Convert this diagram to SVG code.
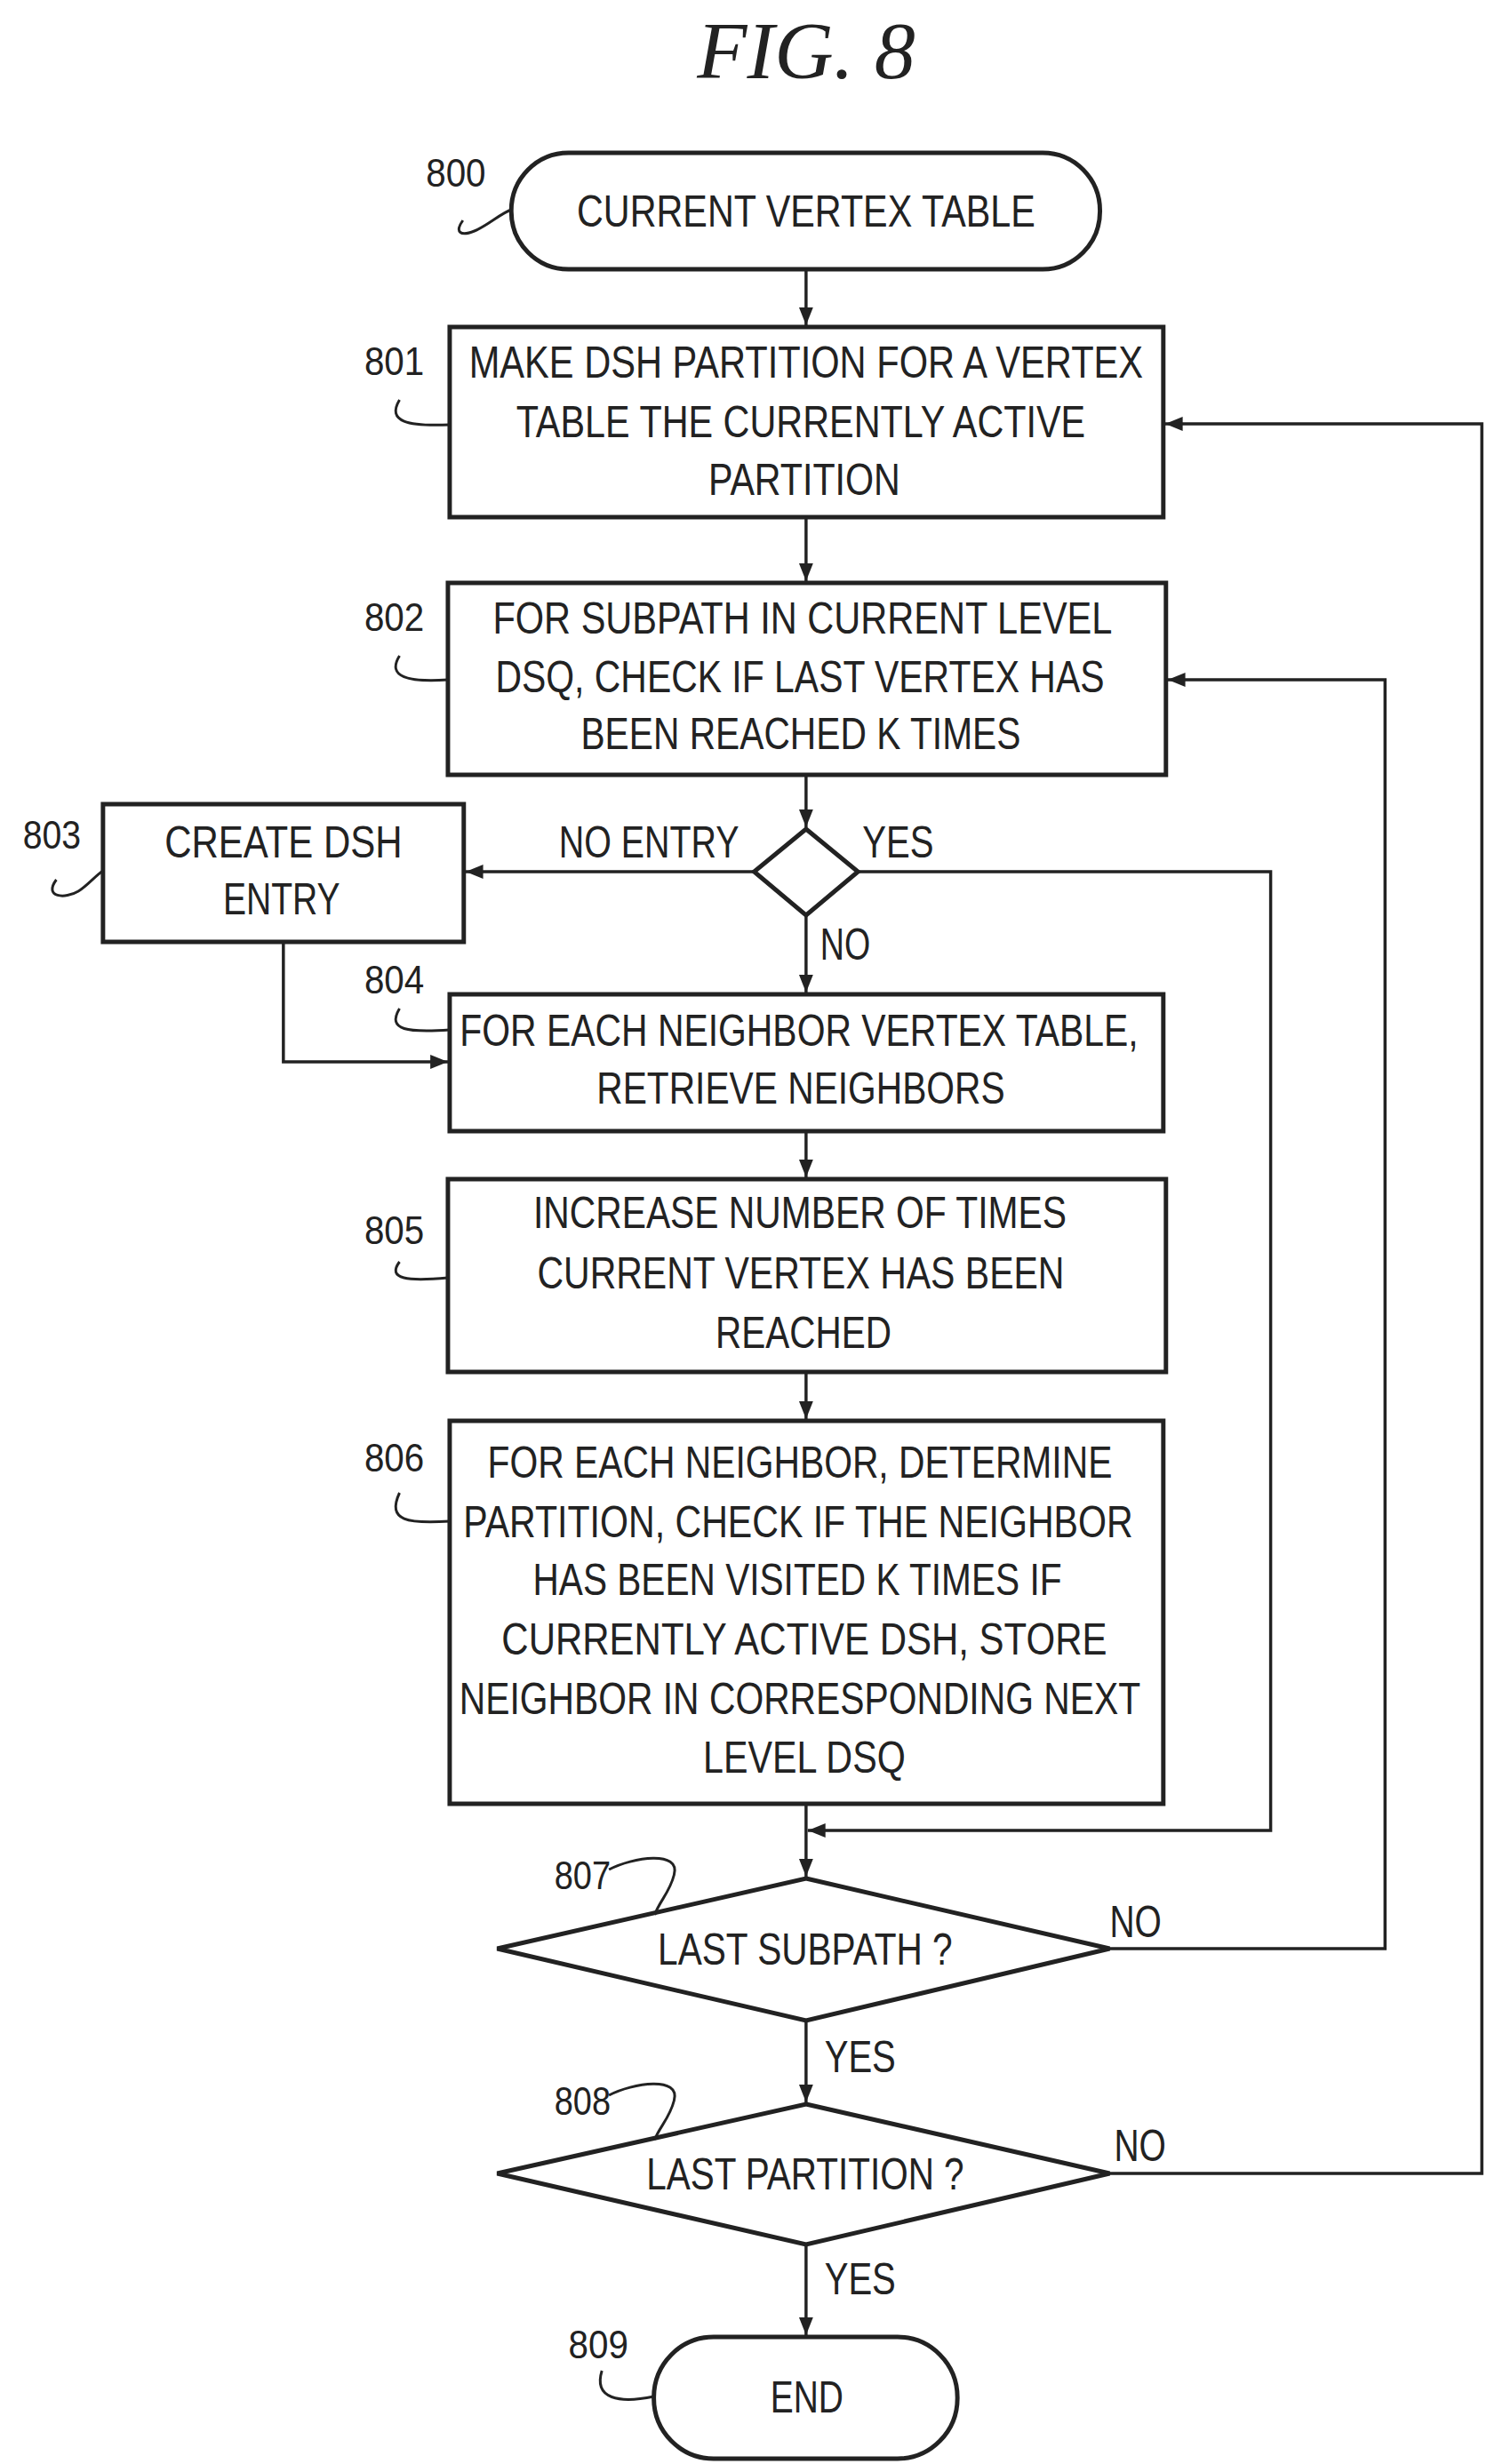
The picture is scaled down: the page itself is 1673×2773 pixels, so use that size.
<svg xmlns="http://www.w3.org/2000/svg" width="1673" height="2773" viewBox="0 0 1673 2773">
<style>
.s{fill:none;stroke:#222;stroke-width:3.5}
.b{fill:#fff;stroke:#222;stroke-width:5}
.c{fill:none;stroke:#222;stroke-width:3}
text{font-family:"Liberation Sans",Arial,sans-serif;font-size:50px;fill:#222}
.m{text-anchor:middle}
.t{font-family:"Liberation Serif","Times New Roman",serif;font-style:italic;font-size:92px}
.n{font-size:44px}
</style>
<defs>
<marker id="h" viewBox="0 0 10 10" refX="10" refY="5" markerWidth="20" markerHeight="20" orient="auto" markerUnits="userSpaceOnUse"><path d="M0,1L10,5L0,9z" fill="#222"/></marker></defs>
<text class="t m" x="907" y="88">FIG. 8</text>
<g transform="translate(4,0) scale(0.99,1)">
<g id="connectors" class="s">
<path d="M912 303V366" marker-end="url(#h)"/>
<path d="M912 582V654" marker-end="url(#h)"/>
<path d="M912 872V931" marker-end="url(#h)"/>
<path d="M853 981H525" marker-end="url(#h)"/>
<path d="M912 1030V1117" marker-end="url(#h)"/>
<path d="M318 1060V1195H505" marker-end="url(#h)"/>
<path d="M912 1273V1325" marker-end="url(#h)"/>
<path d="M912 1544V1597" marker-end="url(#h)"/>
<path d="M912 2030V2112" marker-end="url(#h)"/>
<path d="M971 981H1440V2060H914" marker-end="url(#h)"/>
<path d="M912 2274V2366" marker-end="url(#h)"/>
<path d="M912 2526V2628" marker-end="url(#h)"/>
<path d="M1257 2193H1570V765H1323" marker-end="url(#h)"/>
<path d="M1257 2446H1680V477H1320" marker-end="url(#h)"/>
</g>
<g id="n800"><rect class="b" x="577" y="172" width="669" height="131" rx="65"/><text class="m" x="912" y="255" textLength="521" lengthAdjust="spacingAndGlyphs">CURRENT VERTEX TABLE</text><text class="n" x="480" y="210" textLength="68" lengthAdjust="spacingAndGlyphs">800</text><path class="c" d="M522 248C512 262 520 266 535 260C550 254 565 240 577 236"/></g>
<g id="n801"><rect class="b" x="507" y="368" width="811" height="214"/><text class="m" x="912" y="425" textLength="766" lengthAdjust="spacingAndGlyphs">MAKE DSH PARTITION FOR A VERTEX</text><text class="m" x="906" y="492" textLength="647" lengthAdjust="spacingAndGlyphs">TABLE THE CURRENTLY ACTIVE</text><text class="m" x="910" y="557" textLength="218" lengthAdjust="spacingAndGlyphs">PARTITION</text><text class="n" x="410" y="422" textLength="68" lengthAdjust="spacingAndGlyphs">801</text><path class="c" d="M450 450C435 475 460 480 507 478"/></g>
<g id="n802"><rect class="b" x="505" y="656" width="816" height="216"/><text class="m" x="908" y="713" textLength="704" lengthAdjust="spacingAndGlyphs">FOR SUBPATH IN CURRENT LEVEL</text><text class="m" x="905" y="779" textLength="692" lengthAdjust="spacingAndGlyphs">DSQ, CHECK IF LAST VERTEX HAS</text><text class="m" x="906" y="843" textLength="500" lengthAdjust="spacingAndGlyphs">BEEN REACHED K TIMES</text><text class="n" x="410" y="710" textLength="68" lengthAdjust="spacingAndGlyphs">802</text><path class="c" d="M450 738C435 762 460 768 505 765"/></g>
<g id="d1"><path class="b" d="M912 933L971 981L912 1030L853 981Z"/><text x="631" y="965" textLength="205" lengthAdjust="spacingAndGlyphs">NO ENTRY</text><text x="976" y="965" textLength="81" lengthAdjust="spacingAndGlyphs">YES</text><text x="928" y="1080" textLength="57" lengthAdjust="spacingAndGlyphs">NO</text></g>
<g id="n803"><rect class="b" x="113" y="905" width="410" height="155"/><text class="m" x="318" y="965" textLength="270" lengthAdjust="spacingAndGlyphs">CREATE DSH</text><text class="m" x="316" y="1029" textLength="133" lengthAdjust="spacingAndGlyphs">ENTRY</text><text class="n" x="22" y="955" textLength="66" lengthAdjust="spacingAndGlyphs">803</text><path class="c" d="M60 990C45 1010 70 1012 85 1003C95 997 105 985 113 980"/></g>
<g id="n804"><rect class="b" x="507" y="1119" width="811" height="154"/><text class="m" x="904" y="1177" textLength="771" lengthAdjust="spacingAndGlyphs">FOR EACH NEIGHBOR VERTEX TABLE,</text><text class="m" x="906" y="1242" textLength="464" lengthAdjust="spacingAndGlyphs">RETRIEVE NEIGHBORS</text><text class="n" x="410" y="1118" textLength="68" lengthAdjust="spacingAndGlyphs">804</text><path class="c" d="M450 1135C435 1160 460 1162 507 1159"/></g>
<g id="n805"><rect class="b" x="505" y="1327" width="816" height="217"/><text class="m" x="905" y="1382" textLength="606" lengthAdjust="spacingAndGlyphs">INCREASE NUMBER OF TIMES</text><text class="m" x="906" y="1450" textLength="599" lengthAdjust="spacingAndGlyphs">CURRENT VERTEX HAS BEEN</text><text class="m" x="909" y="1517" textLength="200" lengthAdjust="spacingAndGlyphs">REACHED</text><text class="n" x="410" y="1400" textLength="68" lengthAdjust="spacingAndGlyphs">805</text><path class="c" d="M450 1420C435 1440 460 1442 505 1438"/></g>
<g id="n806"><rect class="b" x="507" y="1599" width="811" height="431"/>
<text class="m" x="905" y="1663" textLength="710" lengthAdjust="spacingAndGlyphs">FOR EACH NEIGHBOR, DETERMINE</text>
<text class="m" x="903" y="1730" textLength="761" lengthAdjust="spacingAndGlyphs">PARTITION, CHECK IF THE NEIGHBOR</text>
<text class="m" x="902" y="1795" textLength="601" lengthAdjust="spacingAndGlyphs">HAS BEEN VISITED K TIMES IF</text>
<text class="m" x="910" y="1862" textLength="688" lengthAdjust="spacingAndGlyphs">CURRENTLY ACTIVE  DSH, STORE</text>
<text class="m" x="905" y="1929" textLength="774" lengthAdjust="spacingAndGlyphs">NEIGHBOR IN CORRESPONDING NEXT</text>
<text class="m" x="910" y="1995" textLength="230" lengthAdjust="spacingAndGlyphs">LEVEL DSQ</text>
<text class="n" x="410" y="1656" textLength="68" lengthAdjust="spacingAndGlyphs">806</text><path class="c" d="M450 1680C435 1712 460 1715 507 1712"/></g>
<g id="n807"><path class="b" d="M912 2114L1257 2193L912 2274L561 2193Z"/><text class="m" x="911" y="2211" textLength="335" lengthAdjust="spacingAndGlyphs">LAST SUBPATH ?</text><text class="n" x="626" y="2126" textLength="64" lengthAdjust="spacingAndGlyphs">807</text><path class="c" d="M688 2104C715 2090 770 2082 762 2110C757 2130 745 2140 740 2155"/><text x="1257" y="2180" textLength="59" lengthAdjust="spacingAndGlyphs">NO</text><text x="933" y="2332" textLength="81" lengthAdjust="spacingAndGlyphs">YES</text></g>
<g id="n808"><path class="b" d="M912 2368L1257 2446L912 2526L561 2446Z"/><text class="m" x="911" y="2464" textLength="361" lengthAdjust="spacingAndGlyphs">LAST PARTITION ?</text><text class="n" x="626" y="2380" textLength="64" lengthAdjust="spacingAndGlyphs">808</text><path class="c" d="M688 2358C715 2344 770 2336 762 2364C757 2384 745 2394 740 2408"/><text x="1262" y="2432" textLength="59" lengthAdjust="spacingAndGlyphs">NO</text><text x="933" y="2582" textLength="81" lengthAdjust="spacingAndGlyphs">YES</text></g>
<g id="n809"><rect class="b" x="739" y="2630" width="345" height="137" rx="68"/><text class="m" x="913" y="2715" textLength="83" lengthAdjust="spacingAndGlyphs">END</text><text class="n" x="642" y="2654" textLength="68" lengthAdjust="spacingAndGlyphs">809</text><path class="c" d="M680 2668C670 2700 700 2705 739 2697"/></g>
</g>
</svg>
